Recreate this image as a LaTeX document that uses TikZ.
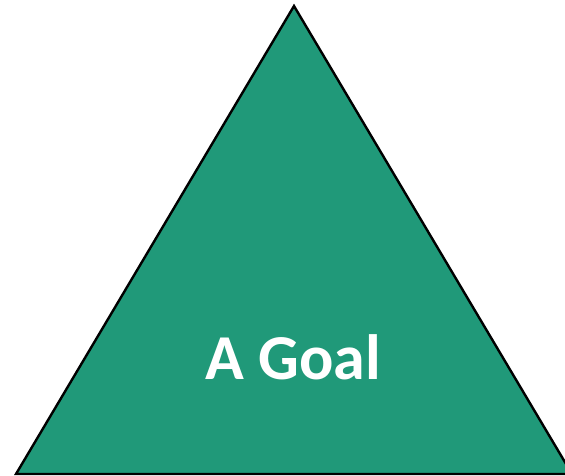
\documentclass[tikz,border=0pt]{standalone}
\usepackage{fontspec}
\setmainfont{Carlito}
\definecolor{goalgreen}{RGB}{32,153,121}
\begin{document}
\begin{tikzpicture}[x=1pt,y=-1pt,
  tri/.style={fill=goalgreen,draw=black,line width=2.4pt,line join=miter},
  lbl/.style={text=white,font=\bfseries\fontsize{64}{64}\selectfont,anchor=base,inner sep=0pt}]
\useasboundingbox (0,0) rectangle (565,476);
\begin{scope}
\clip (0,0) rectangle (565,476);
\draw[tri] (294,6) coordinate (apex) -- (16,474) coordinate (bl) -- (572,474) coordinate (br) -- cycle;
\end{scope}
\node[lbl] (goal) at (293,379) {A Goal};
\end{tikzpicture}
\end{document}
